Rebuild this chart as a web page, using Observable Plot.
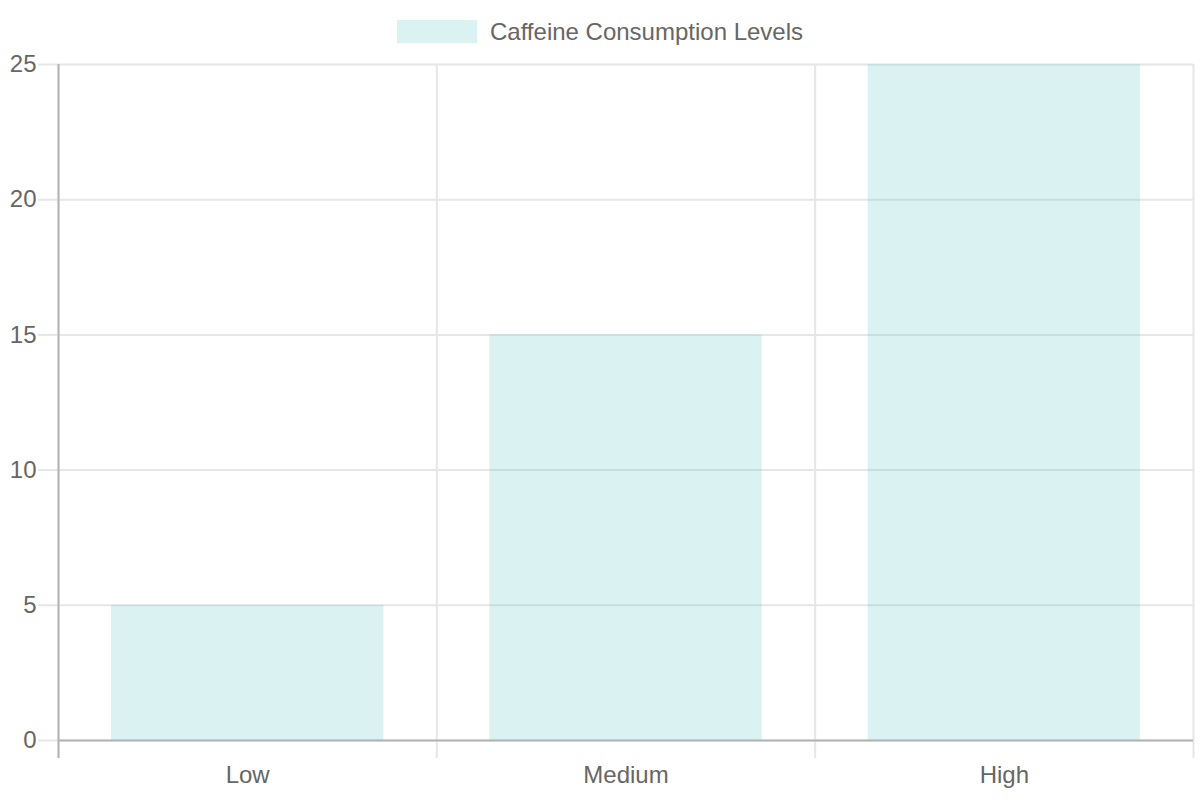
<!DOCTYPE html>
<html>
<head>
<meta charset="utf-8">
<script src="https://cdn.jsdelivr.net/npm/d3@7"></script>
<script src="https://cdn.jsdelivr.net/npm/@observablehq/plot@0.6"></script>
<style>
  html, body { margin: 0; padding: 0; background: #fff; }
  body { width: 1200px; height: 800px; overflow: hidden; font-family: "Liberation Sans", Arial, sans-serif; }
  #legend { height: 54px; box-sizing: border-box; padding-top: 20px; display: flex; justify-content: center; align-items: flex-start; }
  #legend .box { width: 80px; height: 23px; background: rgba(75,192,192,0.2); }
  #legend .lbl { margin-left: 13px; font-size: 24px; color: #666; line-height: 24px; margin-top: 0px; }
  #chart svg { display: block; overflow: visible; }
</style>
</head>
<body>
<div id="legend"><div class="box"></div><div class="lbl"></div></div>
<div id="chart"></div>
<script>
const categories = ["Low", "Medium", "High"];
const values = [5, 15, 25];
const yTicks = [0, 5, 10, 15, 20, 25];
const seriesLabel = "Caffeine Consumption Levels";

document.querySelector("#legend .lbl").textContent = seriesLabel;

const data = categories.map((c, i) => ({category: c, index: i, value: values[i]}));
const boundaries = d3.range(categories.length + 1);
const centers = categories.map((c, i) => i + 0.5);

const grid = "#e6e6e6";
const axisLine = "#b3b3b3";

const chart = Plot.plot({
  width: 1200,
  height: 746,
  marginLeft: 58,
  marginRight: 7,
  marginTop: 10,
  marginBottom: 60,
  style: {fontSize: "24px", fontFamily: "Liberation Sans, Arial, sans-serif", background: "#fff", overflow: "visible"},
  x: {type: "linear", domain: [0, categories.length], label: null},
  y: {domain: [0, 25], label: null},
  marks: [
    Plot.gridY(yTicks, {stroke: grid, strokeOpacity: 1, strokeWidth: 2}),
    Plot.ruleX(boundaries, {stroke: grid, strokeWidth: 2}),
    Plot.axisX(boundaries, {tickSize: 18, tickFormat: () => "", stroke: grid, strokeWidth: 2, label: null}),
    Plot.rectY(data, {x1: d => d.index + 0.14, x2: d => d.index + 0.86, y: "value", fill: "rgb(75,192,192)", fillOpacity: 0.2}),
    Plot.axisX(centers, {tickSize: 0, tickPadding: 25, tickFormat: v => categories[Math.floor(v)], fill: "#666", label: null}),
    Plot.axisY(yTicks, {tickSize: 20, tickPadding: 2, fill: "#666", stroke: grid, strokeWidth: 2, label: null}),
    Plot.ruleX([0], {stroke: axisLine, strokeWidth: 2}),
    Plot.axisX([0], {tickSize: 18, tickFormat: () => "", stroke: axisLine, strokeWidth: 2, label: null}),
    Plot.ruleY([0], {stroke: axisLine, strokeWidth: 2})
  ]
});
document.getElementById("chart").appendChild(chart);
</script>
</body>
</html>
